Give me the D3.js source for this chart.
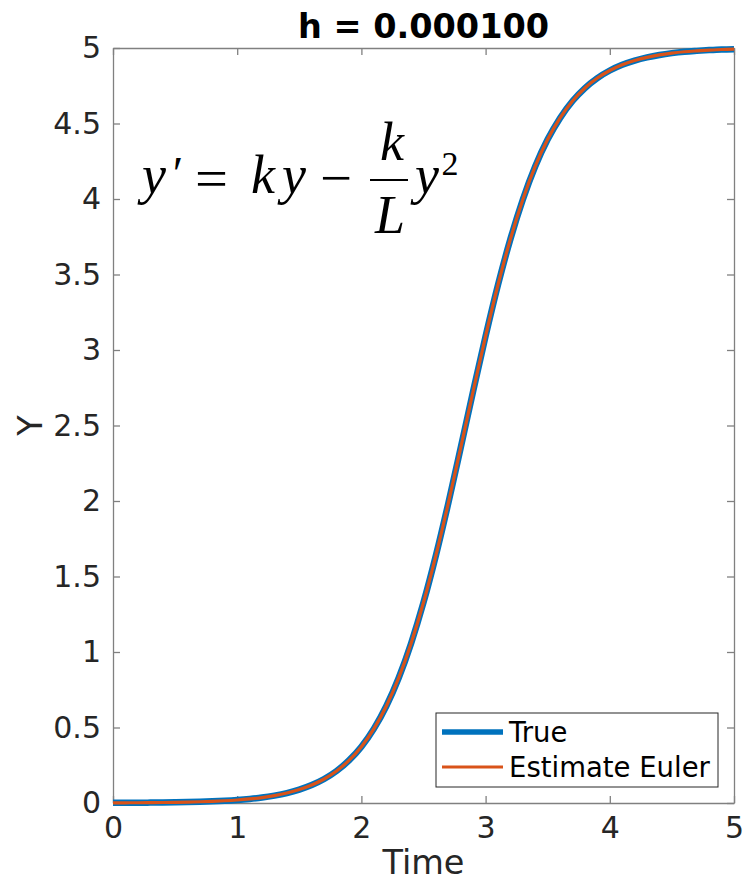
<!DOCTYPE html>
<html>
<head>
<meta charset="utf-8">
<script src="https://cdn.jsdelivr.net/npm/d3@7"></script>
<style>
  html, body { margin: 0; padding: 0; background: #fff; }
  svg { display: block; }
</style>
</head>
<body>
<svg id="chart" width="746" height="891"></svg>
<script>
// ---- data ----
const titleText = "h = 0.000100";
const xLabel = "Time";
const yLabel = "Y";
const seriesNames = ["True", "Estimate Euler"];
const xTicks = [0, 1, 2, 3, 4, 5];
const yTicks = [0, 0.5, 1, 1.5, 2, 2.5, 3, 3.5, 4, 4.5, 5];
const yTickLabels = ["0", "0.5", "1", "1.5", "2", "2.5", "3", "3.5", "4", "4.5", "5"];
const timeVals = [0.0,0.1,0.2,0.3,0.4,0.5,0.6,0.7,0.8,0.9,1.0,1.1,1.2,1.3,1.4,1.5,1.6,1.7,1.8,1.9,2.0,
  2.1,2.2,2.3,2.4,2.5,2.6,2.7,2.8,2.9,3.0,3.1,3.2,3.3,3.4,3.5,3.6,3.7,3.8,3.9,4.0,
  4.1,4.2,4.3,4.4,4.5,4.6,4.7,4.8,4.9,5.0];
const trueY = [0.001,0.0014,0.0018,0.0025,0.0033,0.0045,0.006,0.0082,0.011,0.0148,0.020,
  0.027,0.036,0.049,0.066,0.089,0.119,0.159,0.212,0.282,0.373,
  0.491,0.641,0.828,1.057,1.328,1.640,1.986,2.354,2.728,3.092,
  3.432,3.735,3.997,4.217,4.395,4.537,4.649,4.735,4.801,4.851,
  4.889,4.917,4.938,4.954,4.966,4.975,4.981,4.986,4.990,4.992];
const eulerY = [0.001,0.0014,0.0018,0.0025,0.0033,0.0045,0.006,0.0082,0.011,0.0148,0.020,
  0.027,0.036,0.049,0.066,0.089,0.119,0.159,0.212,0.282,0.373,
  0.491,0.641,0.828,1.057,1.328,1.640,1.986,2.354,2.728,3.092,
  3.432,3.735,3.997,4.217,4.395,4.537,4.649,4.735,4.801,4.851,
  4.889,4.917,4.938,4.954,4.966,4.975,4.981,4.986,4.990,4.992];

// ---- layout ----
const svg = d3.select("#chart");
const m = { left: 113, top: 48, right: 734, bottom: 803 };
const FONT = "'DejaVu Sans', sans-serif";
const textCol = "#262626";
const axisCol = "#808080";

const x = d3.scaleLinear().domain([0, 5]).range([m.left, m.right]);
const y = d3.scaleLinear().domain([0, 5]).range([m.bottom, m.top]);

svg.append("defs").append("clipPath").attr("id", "clip")
  .append("rect").attr("x", m.left - 2).attr("y", m.top - 4)
  .attr("width", m.right - m.left + 4).attr("height", m.bottom - m.top + 8);

const tickLen = 7;
const gx = svg.append("g").attr("transform", `translate(0,${m.bottom})`)
  .call(d3.axisBottom(x).tickValues(xTicks).tickSizeInner(-tickLen).tickSizeOuter(0).tickPadding(14).tickFormat(d3.format("d")));
const gxTop = svg.append("g").attr("transform", `translate(0,${m.top})`)
  .call(d3.axisTop(x).tickValues(xTicks).tickSizeInner(-tickLen).tickSizeOuter(0).tickFormat(""));
const gy = svg.append("g").attr("transform", `translate(${m.left},0)`)
  .call(d3.axisLeft(y).tickValues(yTicks).tickSizeInner(-tickLen).tickSizeOuter(0).tickPadding(12)
    .tickFormat((d, i) => yTickLabels[i]));
const gyR = svg.append("g").attr("transform", `translate(${m.right},0)`)
  .call(d3.axisRight(y).tickValues(yTicks).tickSizeInner(-tickLen).tickSizeOuter(0).tickFormat(""));

[gx, gxTop, gy, gyR].forEach(g => {
  g.select(".domain").attr("stroke", axisCol).attr("stroke-width", 1.3);
  g.selectAll(".tick line").attr("stroke", axisCol).attr("stroke-width", 1.3);
  g.selectAll(".tick text").attr("fill", textCol).style("font-family", FONT).style("font-size", "30px");
});
gx.selectAll(".tick text").attr("dy", "0.71em");

// lines
const plot = svg.append("g").attr("clip-path", "url(#clip)");
const lineGen = d3.line().x(d => x(d[0])).y(d => y(d[1])).curve(d3.curveMonotoneX);
plot.append("path").datum(timeVals.map((t, i) => [t, trueY[i]]))
  .attr("d", lineGen).attr("fill", "none").attr("stroke", "#0072BD").attr("stroke-width", 6.5)
  .attr("stroke-linejoin", "round");
plot.append("path").datum(timeVals.map((t, i) => [t, eulerY[i]]))
  .attr("d", lineGen).attr("fill", "none").attr("stroke", "#D95319").attr("stroke-width", 3.2)
  .attr("stroke-linejoin", "round");

// title & labels
svg.append("text").attr("x", (m.left + m.right) / 2).attr("y", 38).attr("text-anchor", "middle")
  .style("font-family", FONT).style("font-size", "33.5px").style("font-weight", "bold")
  .attr("fill", "#000").text(titleText);
svg.append("text").attr("x", (m.left + m.right) / 2).attr("y", 874).attr("text-anchor", "middle")
  .style("font-family", FONT).style("font-size", "33.5px").attr("fill", textCol).text(xLabel);
svg.append("text").attr("transform", `translate(42,${(m.top + m.bottom) / 2}) rotate(-90)`)
  .attr("text-anchor", "middle")
  .style("font-family", FONT).style("font-size", "33.5px").attr("fill", textCol).text(yLabel);

// equation  y' = ky - (k/L) y^2
const SERIF = "'Liberation Serif', 'DejaVu Serif', serif";
const eq = svg.append("g").style("font-family", SERIF).style("font-size", "54px").attr("fill", "#000");
function piece(txt, px, py, opts = {}) {
  const t = eq.append("text").attr("x", px).attr("y", py).attr("text-anchor", "middle").text(txt);
  if (opts.len) t.attr("textLength", opts.len).attr("lengthAdjust", "spacingAndGlyphs");
  if (opts.italic) t.style("font-style", "italic");
  if (opts.size) t.style("font-size", opts.size + "px");
  return t;
}
piece("y", 154, 193, { italic: true });
piece("′", 178, 190, { size: 48 });
piece("=", 211.5, 197, { len: 33 });
piece("k", 263, 193, { italic: true });
piece("y", 294, 193, { italic: true });
piece("−", 336, 196, { len: 32 });
eq.append("line").attr("x1", 370).attr("x2", 408).attr("y1", 180).attr("y2", 180)
  .attr("stroke", "#000").attr("stroke-width", 1.8);
piece("k", 392, 160, { italic: true });
piece("L", 390, 233, { italic: true });
piece("y", 427, 193, { italic: true });
piece("2", 450, 175, { size: 34 });

// legend
const lg = svg.append("g");
lg.append("rect").attr("x", 436).attr("y", 713).attr("width", 282).attr("height", 74)
  .attr("fill", "#fff").attr("stroke", "#262626").attr("stroke-width", 1);
const legendItems = [
  { name: seriesNames[0], color: "#0072BD", w: 5.5, yy: 732 },
  { name: seriesNames[1], color: "#D95319", w: 3, yy: 767 }
];
legendItems.forEach(it => {
  lg.append("line").attr("x1", 442).attr("x2", 503).attr("y1", it.yy).attr("y2", it.yy)
    .attr("stroke", it.color).attr("stroke-width", it.w);
  lg.append("text").attr("x", 509).attr("y", it.yy).attr("dy", "0.35em")
    .style("font-family", FONT).style("font-size", "27.5px").attr("fill", "#000").text(it.name);
});
</script>
</body>
</html>
